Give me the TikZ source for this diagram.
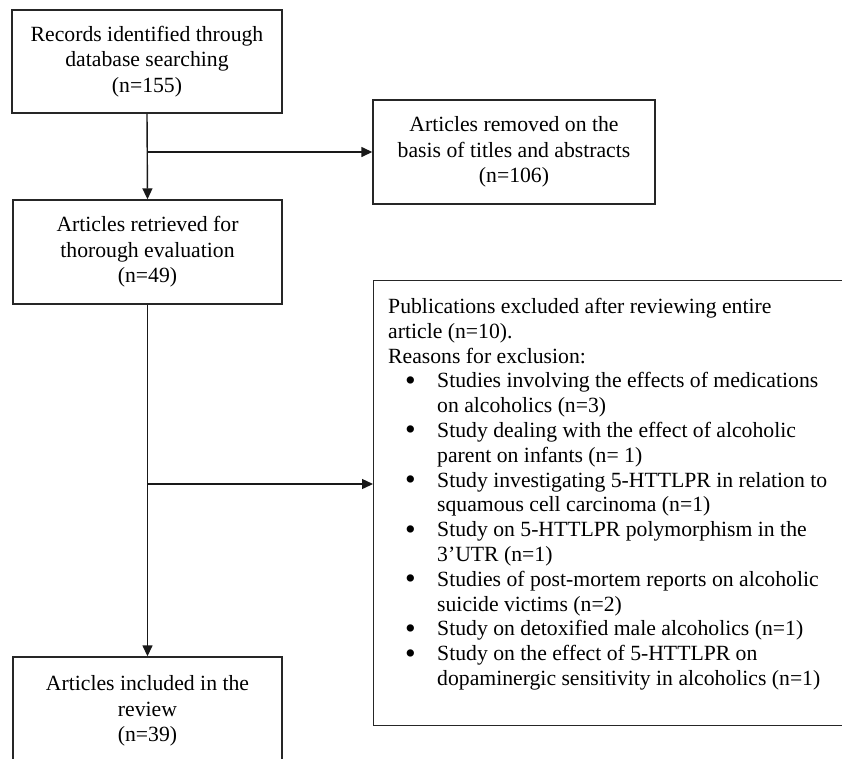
\documentclass[tikz,border=0pt]{standalone}
\usepackage{fontspec}
\setmainfont{Liberation Serif}
\usetikzlibrary{arrows.meta}
\newcommand{\bul}{\hspace*{17pt}\makebox[32pt][l]{\raisebox{-2.5pt}{\scalebox{1.4}{\textbullet}}}}
\newcommand{\ind}{\hspace*{49pt}}
\begin{document}
\begin{tikzpicture}
      [x=1pt,y=-1pt,
      box/.style={draw=black!85,line width=1.4pt,align=center,inner sep=0pt,
        font=\fontsize{21.7}{25.5}\selectfont},
      arrow/.style={draw=black!90,line width=1.4pt,-{Triangle[length=11pt,width=10pt]}}]
      \useasboundingbox (0,0) rectangle (842,758);
      \clip (0,0) rectangle (842,758);
      \node[box,minimum width=270pt,minimum height=103pt] (records) at (147,61.5)
        {Records identified through\\database searching\\(n=155)};
      \node[box,minimum width=269pt,minimum height=104pt] (retrieved) at (147.5,252)
        {Articles retrieved for\\thorough evaluation\\(n=49)};
      \node[box,minimum width=282pt,minimum height=104pt] (removed) at (514,152)
        {Articles removed on the\\basis of titles and abstracts\\(n=106)};
      \node[box,minimum width=269pt,minimum height=108pt] (included) at (147.5,711)
        {Articles included in the\\review\\(n=39)};
      \node[box,anchor=north west,minimum width=520pt,minimum height=445pt] (excluded) at (373,280) {};
      \node[align=left,inner sep=0pt,anchor=north west,
        font=\fontsize{21.7}{24.8}\selectfont] (reasons) at (388,298)
        {Publications excluded after reviewing entire\\
        article (n=10).\\
        Reasons for exclusion:\\
        \bul Studies involving the effects of medications\\
        \ind on alcoholics (n=3)\\
        \bul Study dealing with the effect of alcoholic\\
        \ind parent on infants (n= 1)\\
        \bul Study investigating 5-HTTLPR in relation to\\
        \ind squamous cell carcinoma (n=1)\\
        \bul Study on 5-HTTLPR polymorphism in the\\
        \ind 3’UTR (n=1)\\
        \bul Studies of post-mortem reports on alcoholic\\
        \ind suicide victims (n=2)\\
        \bul Study on detoxified male alcoholics (n=1)\\
        \bul Study on the effect of 5-HTTLPR on\\
        \ind dopaminergic sensitivity in alcoholics (n=1)};
      \coordinate (split1) at (records.south |- removed.west);
      \coordinate (split2) at (147.5,484);
      \draw[arrow] (records.south) -- (retrieved.north);
      \draw[arrow] (split1) -- (removed.west);
      \draw[arrow] (retrieved.south) -- (included.north);
      \draw[arrow] (split2) -- (split2 -| excluded.west);
    \end{tikzpicture}
\end{document}
